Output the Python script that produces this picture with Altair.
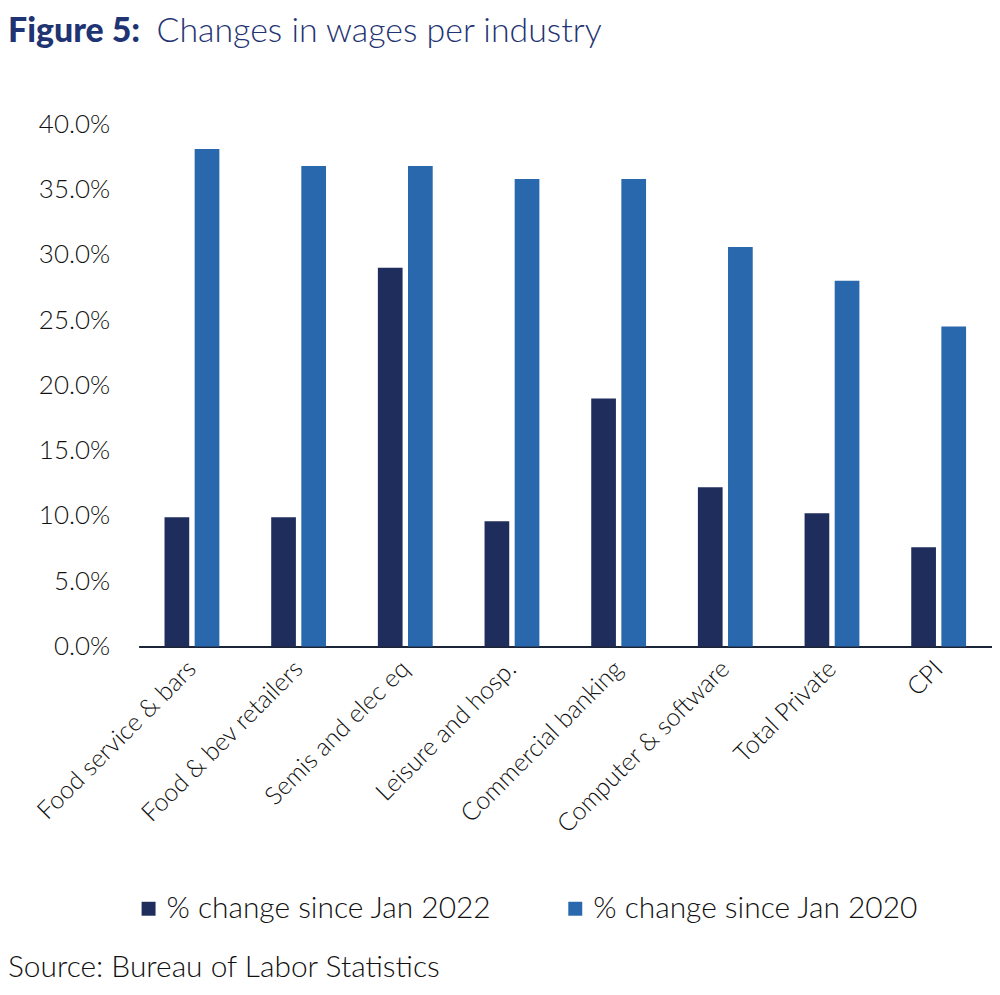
import altair as alt
import pandas as pd

categories = [
    "Food service & bars",
    "Food & bev retailers",
    "Semis and elec eq",
    "Leisure and hosp.",
    "Commercial banking",
    "Computer & software",
    "Total Private",
    "CPI",
]
series_names = ["% change since Jan 2022", "% change since Jan 2020"]
since_jan_2022 = [9.9, 9.9, 29.0, 9.6, 19.0, 12.2, 10.2, 7.6]
since_jan_2020 = [38.1, 36.8, 36.8, 35.8, 35.8, 30.6, 28.0, 24.5]
y_ticks = [0, 5, 10, 15, 20, 25, 30, 35, 40]

title_bold = "Figure 5:"
title_rest = "Changes in wages per industry"
source_text = "Source: Bureau of Labor Statistics"

DARK = "#1f2d5d"
LIGHT = "#2968ad"
NAVY_TITLE = "#1f3473"
FONT = "Lato"
TXT = "#111111"

rows = []
for c, a, b in zip(categories, since_jan_2022, since_jan_2020):
    rows.append({"category": c, "series": series_names[0], "value": a})
    rows.append({"category": c, "series": series_names[1], "value": b})
df = pd.DataFrame(rows)

W, H = 856, 524

bars = alt.Chart(df).mark_bar().encode(
    x=alt.X(
        "category:N",
        sort=categories,
        scale=alt.Scale(paddingInner=0.486, paddingOuter=0.243),
        axis=alt.Axis(
            title="",
            labelAngle=-45,
            labelAlign="right",
            labelBaseline="middle",
            labelFontSize=25,
            labelFont=FONT,
            labelFontWeight=300,
            labelColor=TXT,
            labelPadding=18,
            labelOverlap=False,
            labelLimit=400,
            ticks=False,
            domainColor="#1c2538",
            domainWidth=2,
            grid=False,
        ),
    ),
    xOffset=alt.XOffset("series:N", sort=series_names, scale=alt.Scale(paddingInner=0.18)),
    y=alt.Y(
        "value:Q",
        scale=alt.Scale(domain=[0, 40], nice=False),
        axis=alt.Axis(
            title="",
            values=y_ticks,
            labelExpr="format(datum.value, '.1f') + '%'",
            labelFontSize=26,
            labelFont=FONT,
            labelFontWeight=300,
            labelColor=TXT,
            labelPadding=29,
            ticks=False,
            domain=False,
            grid=False,
        ),
    ),
    color=alt.Color(
        "series:N",
        sort=series_names,
        scale=alt.Scale(domain=series_names, range=[DARK, LIGHT]),
        legend=alt.Legend(
            title=None,
            orient="none",
            direction="horizontal",
            legendX=-5,
            legendY=772,
            labelFontSize=30,
            labelFont=FONT,
            labelFontWeight=300,
            labelColor=TXT,
            symbolType="square",
            symbolSize=196,
            symbolStrokeWidth=0,
            labelOffset=3,
            columnPadding=68,
            padding=0,
            labelLimit=500,
        ),
    ),
)

title_df = pd.DataFrame({"bold": [title_bold], "rest": [title_rest], "src": [source_text]})

t_bold = alt.Chart(title_df).mark_text(
    align="left", baseline="alphabetic", font=FONT, fontSize=34, fontWeight=900, color=NAVY_TITLE
).encode(text="bold:N", x=alt.value(-131), y=alt.value(-82))

t_rest = alt.Chart(title_df).mark_text(
    align="left", baseline="alphabetic", font=FONT, fontSize=34, fontWeight=300, color=NAVY_TITLE
).encode(text="rest:N", x=alt.value(18), y=alt.value(-82))

t_src = alt.Chart(title_df).mark_text(
    align="left", baseline="alphabetic", font=FONT, fontSize=30, fontWeight=300, color=TXT
).encode(text="src:N", x=alt.value(-131), y=alt.value(855))

chart = alt.layer(bars, t_bold, t_rest, t_src).properties(
    width=W,
    height=H,
    autosize=alt.AutoSizeParams(type="none"),
    padding={"left": 131, "top": 115, "right": 0, "bottom": 340},
).configure_view(stroke=None)

chart.save("out.html", embed_options={"renderer": "svg", "actions": False})
